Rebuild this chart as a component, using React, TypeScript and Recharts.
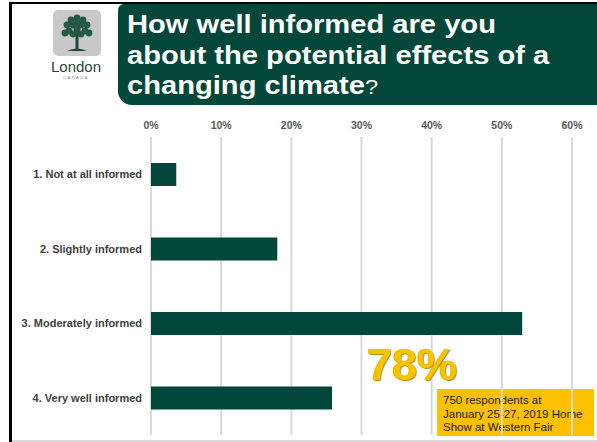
import { BarChart, Bar, XAxis, YAxis, CartesianGrid } from 'recharts';

const categories = [
  '1. Not at all informed',
  '2. Slightly informed',
  '3. Moderately informed',
  '4. Very well informed',
];
const shares = [3.6, 18, 52.9, 25.8];
const percentTicks = [0, 10, 20, 30, 40, 50, 60];

const titleLines = ['How well informed are you', 'about the potential effects of a', 'changing climate'];
const highlight = '78%';
const noteLines = ['750 respondents at', 'January 25-27, 2019 Home', 'Show at Western Fair'];

const GREEN = '#03463a';

function Tree() {
  return (
    <svg width="48" height="46" viewBox="0 0 48 46">
      <rect x="22.5" y="22" width="3" height="18" fill="#1d4a38" />
      <path d="M14 41 Q24 36 34 41 Z" fill="#1d4a38" />
      {[
        [24, 8], [18, 10], [30, 10], [14, 15], [34, 15], [20, 15], [28, 15],
        [16, 21], [32, 21], [24, 19], [20, 24], [28, 24], [12, 23], [36, 23], [24, 13],
      ].map(([cx, cy], i) => (
        <circle key={i} cx={cx} cy={cy} r="3.4" fill="#245a44" />
      ))}
    </svg>
  );
}

const CategoryTick = ({ x, y, payload }: any) => (
  <text x={x} y={y} dy={4} textAnchor="end" fontSize={11} fontWeight="bold" fill="#404040">
    {payload.value}
  </text>
);

export default function App() {
  const data = categories.map((name, i) => ({ name, value: shares[i] }));

  return (
    <div style={{ position: 'absolute', left: 0, top: 0, width: 597, height: 442, background: '#fff', overflow: 'hidden', fontFamily: 'Arial, "Liberation Sans", sans-serif' }}>
      {/* frame */}
      <div style={{ position: 'absolute', left: 9, top: 2, width: 3, height: 440, background: '#000' }} />
      <div style={{ position: 'absolute', left: 9, top: 2, width: 588, height: 2, background: '#000' }} />
      <div style={{ position: 'absolute', left: 12, top: 440, width: 585, height: 2, background: '#d9d9d9' }} />

      {/* logo */}
      <div style={{ position: 'absolute', left: 53, top: 10, width: 48, height: 46, background: '#c9c9c9', borderRadius: 5 }}>
        <Tree />
      </div>
      <div style={{ position: 'absolute', left: 48, top: 58, width: 56, textAlign: 'center', fontSize: 15, color: '#2a4438', lineHeight: '17px' }}>London</div>
      <div style={{ position: 'absolute', left: 48, top: 75, width: 56, textAlign: 'center', fontSize: 4, letterSpacing: 1.5, color: '#888', lineHeight: '5px' }}>CANADA</div>

      {/* title */}
      <div style={{ position: 'absolute', left: 118, top: 4, width: 479, height: 101, background: GREEN, borderRadius: '6px 0 0 14px' }} />
      <div style={{ position: 'absolute', left: 127, top: 9, color: '#fff', fontWeight: 'bold', fontSize: 26, lineHeight: '30.5px', whiteSpace: 'nowrap', transform: 'scaleX(1.12)', transformOrigin: 'left top' }}>
        {titleLines.map((line, i) => (
          <div key={i}>
            {line}
            {i === titleLines.length - 1 && <span style={{ fontWeight: 'normal', fontSize: 21 }}>?</span>}
          </div>
        ))}
      </div>

      {/* note box, behind the grid */}
      <div style={{ position: 'absolute', left: 437, top: 389, width: 157, height: 47, background: '#ffc000', zIndex: 0 }}>
        <div style={{ paddingLeft: 6, paddingTop: 5, fontSize: 11.5, lineHeight: '13.5px', color: '#1a1a1a', whiteSpace: 'nowrap' }}>
          {noteLines.map((l, i) => <div key={i}>{l}</div>)}
        </div>
      </div>

      <div style={{ position: 'absolute', left: 0, top: 0, zIndex: 1 }}>
        <BarChart
          width={597}
          height={442}
          data={data}
          layout="vertical"
          margin={{ top: 117, right: 25, bottom: 7, left: 0 }}
          barCategoryGap={0}
        >
          <CartesianGrid horizontal={false} stroke="#d9d9d9" strokeWidth={2} />
          <XAxis
            type="number"
            orientation="top"
            domain={[0, 60]}
            ticks={percentTicks}
            tickFormatter={(v) => `${v}%`}
            height={20}
            tickSize={0}
            tickMargin={8}
            axisLine={false}
            tickLine={false}
            interval={0}
            tick={{ fontSize: 10.5, fontWeight: 'bold', fill: '#595959' }}
          />
          <YAxis
            type="category"
            dataKey="name"
            width={151}
            tickSize={0}
            tickMargin={9}
            axisLine={false}
            tickLine={false}
            interval={0}
            tick={<CategoryTick />}
          />
          <Bar dataKey="value" fill={GREEN} barSize={23} isAnimationActive={false} />
        </BarChart>
      </div>

      {/* highlight */}
      <div style={{ position: 'absolute', left: 367, top: 340, zIndex: 2, fontSize: 45, fontWeight: 'bold', color: '#f5c400', lineHeight: '50px', textShadow: '1px 1px 0 #b8900a, -0.5px -0.5px 0 #d9a900' }}>
        {highlight}
      </div>
    </div>
  );
}
